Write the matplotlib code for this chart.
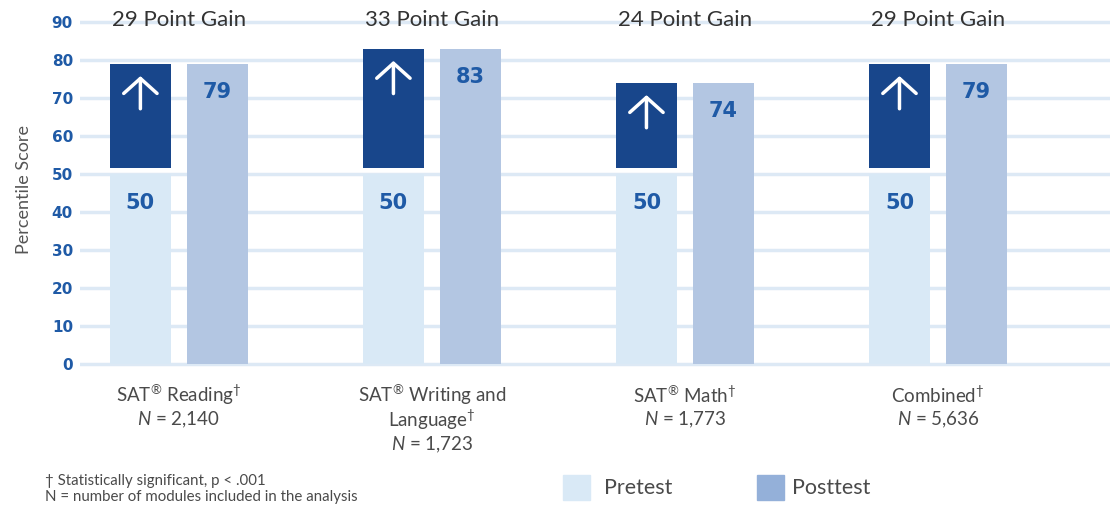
import numpy as np
import matplotlib.pyplot as plt

# chart values
groups = ["SAT$^{\u00ae}$ Reading$^{\u2020}$", "SAT$^{\u00ae}$ Writing and\nLanguage$^{\u2020}$",
          "SAT$^{\u00ae}$ Math$^{\u2020}$", "Combined$^{\u2020}$"]
n_labels = ["2,140", "1,723", "1,773", "5,636"]
pretest = [50, 50, 50, 50]
posttest = [79, 83, 74, 79]
gains = [29, 33, 24, 29]

pre_color = "#d9e9f6"
post_color = "#b3c6e2"
gain_color = "#18468b"
num_color = "#1f5aa6"
text_color = "#4a4a4a"

plt.rcParams["font.family"] = ["Lato", "DejaVu Sans"]
plt.rcParams["mathtext.fontset"] = "custom"
plt.rcParams["mathtext.rm"] = "Lato"
plt.rcParams["mathtext.it"] = "Lato:italic"

fig = plt.figure(figsize=(11.1, 5.05), dpi=100)
ax = fig.add_axes([0.072, 0.2717, 0.928, 0.707])

x = np.arange(len(groups))
w = 0.241
off = 0.152

ax.set_ylim(-1, 93)
ax.set_xlim(-0.391, 3.68)
ax.set_yticks(np.arange(0, 91, 10))
ax.grid(axis="y", color="#dde9f5", linewidth=2.5)
ax.set_axisbelow(True)
ax.tick_params(axis="y", length=0, pad=5, labelcolor=num_color, labelsize=11)
for lbl in ax.get_yticklabels():
    lbl.set_fontweight("bold")
    lbl.set_family("DejaVu Sans")
ax.set_xticks([])
for s in ax.spines.values():
    s.set_visible(False)

# pretest bars, gain blocks, posttest bars
ax.bar(x - off, pretest, width=w, color=pre_color, zorder=2)
gain_bottom = np.array(pretest) + 1.5
ax.bar(x - off, np.array(posttest) - gain_bottom, bottom=gain_bottom,
       width=w, color=gain_color, zorder=3)
ax.bar(x + off, posttest, width=w, color=post_color, zorder=2)

for i in range(len(groups)):
    ax.text(x[i] - off, pretest[i] - 7.5, str(pretest[i]), ha="center", va="center",
            color=num_color, fontsize=15, fontweight="bold", family="DejaVu Sans", zorder=4)
    ax.text(x[i] + off, posttest[i] - 7.5, str(posttest[i]), ha="center", va="center",
            color=num_color, fontsize=15, fontweight="bold", family="DejaVu Sans", zorder=4)
    top = posttest[i]
    ax.annotate("", xy=(x[i] - off, top - 3.2), xytext=(x[i] - off, top - 11.8),
                arrowprops=dict(arrowstyle="->,head_width=0.5,head_length=0.45",
                                color="white", lw=2.5, capstyle="round",
                                joinstyle="round", mutation_scale=24,
                                shrinkA=0, shrinkB=0),
                zorder=5)
    ax.text(x[i], 90.5, f"{gains[i]} Point Gain", ha="center", va="center",
            color="#333333", fontsize=16)

# category labels
for i in range(len(groups)):
    xc = (80 + (x[i] + 0.391) * 253) / 1110
    y0 = 395
    for ln in groups[i].split("\n"):
        fig.text(xc, 1 - y0 / 505, ln, ha="center", va="center",
                 color=text_color, fontsize=13.5)
        y0 += 25
    fig.text(xc, 1 - y0 / 505, "$\\it{N}$ = " + n_labels[i],
             ha="center", va="center", color=text_color, fontsize=13.5)

ax.set_ylabel("Percentile Score", color="#555555", fontsize=13, labelpad=14)

# footnotes
fig.text(45 / 1110, 1 - 481 / 505, "\u2020 Statistically significant, p < .001", fontsize=10.8,
         color=text_color, va="center")
fig.text(45 / 1110, 1 - 497 / 505, "N = number of modules included in the analysis", fontsize=10.8,
         color=text_color, va="center")

# legend
fig.patches.append(plt.Rectangle((563 / 1110, 1 - 500 / 505), 27 / 1110, 25 / 505,
                                 transform=fig.transFigure, color=pre_color))
fig.text(604 / 1110, 1 - 488 / 505, "Pretest", fontsize=15.5, color=text_color, va="center")
fig.patches.append(plt.Rectangle((757 / 1110, 1 - 500 / 505), 27 / 1110, 25 / 505,
                                 transform=fig.transFigure, color="#94b0d9"))
fig.text(792 / 1110, 1 - 488 / 505, "Posttest", fontsize=15.5, color=text_color, va="center")

fig.savefig("out.png", dpi=100)
